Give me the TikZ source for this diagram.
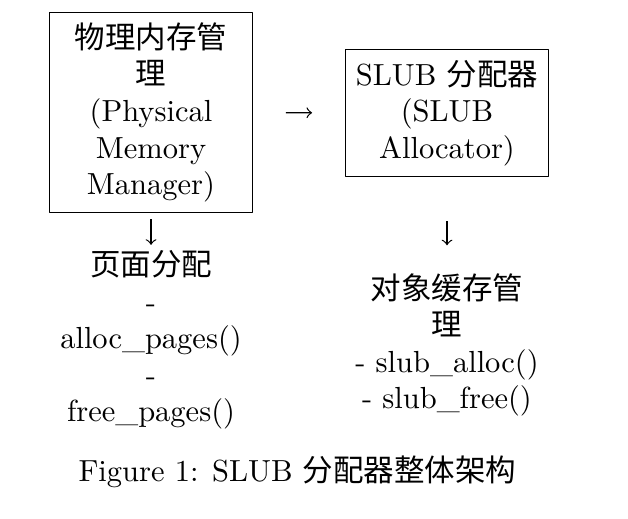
\documentclass[tikz,border=0pt]{standalone}
\usepackage{fontspec}
\newfontfamily\cjk{Noto Sans CJK SC}
\tikzset{>=to}

\begin{document}
\begin{tikzpicture}[line join = round,
    mgrbox/.style={draw, text width=2.1cm, align=center},
    apitext/.style={align=center}]
    \useasboundingbox (0,0) rectangle (7.235,-5.968);
    \node[mgrbox] (pmm) at (1.740,-1.296) {{\cjk 物理内存管}\\{\cjk 理}\\(Physical\\Memory\\Manager)};
    \node[mgrbox] (slub) at (5.150,-1.302) {SLUB~{\cjk 分配器}\\(SLUB\\Allocator)};
    \node[apitext] (pages) at (1.740,-3.917) {{\cjk 页面分配}\\-\\alloc\_pages()\\-\\free\_pages()};
    \node[apitext] (cache) at (5.150,-3.975) {{\cjk 对象缓存管}\\{\cjk 理}\\- slub\_alloc()\\- slub\_free()};
    \node[anchor=base] (cap) at (3.427,-5.553) {Figure 1: SLUB {\cjk 分配器整体架构}};
    \draw[->, shorten <=0.38cm, shorten >=0.38cm] (pmm) -- (slub);
    \draw[->, shorten <=0.07cm, shorten >=-0.06cm] (pmm.south) -- (pages.north);
    \draw[->, shorten <=0.51cm, shorten >=0.2cm] (slub.south) -- (cache.north);
\end{tikzpicture}
\end{document}
